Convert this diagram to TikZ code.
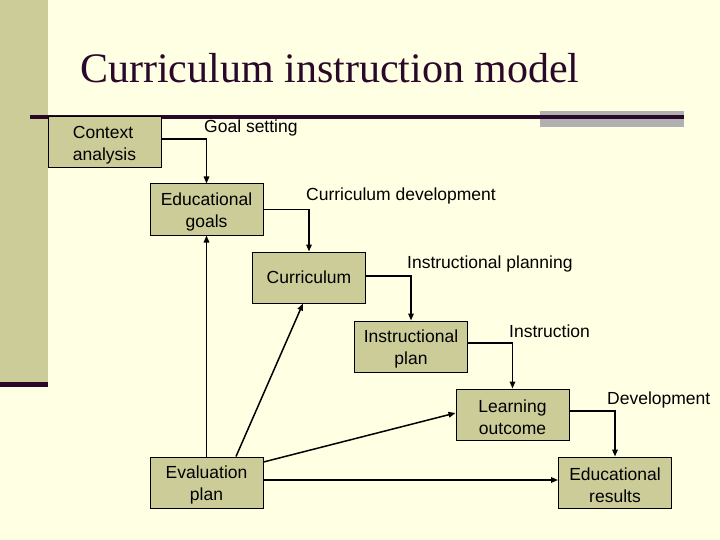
\documentclass[tikz,border=0pt]{standalone}
\usepackage{fontspec}
\setmainfont{Liberation Sans}
\newfontfamily\titlefont{Liberation Serif}
\usetikzlibrary{arrows.meta}
\definecolor{bgc}{RGB}{255,255,227}
\definecolor{khaki}{RGB}{204,204,153}
\definecolor{dpurple}{RGB}{42,8,42}
\definecolor{grayb}{RGB}{176,176,176}
\newcommand{\tallstrut}{\rule{0pt}{18pt}}
\tikzset{
  box/.style={draw=black, line width=1pt, fill=khaki, minimum width=113pt, minimum height=51pt,
    inner sep=0pt, align=center, font=\fontsize{17.5}{22}\selectfont},
  lab/.style={anchor=west, inner sep=0pt, font=\fontsize{17.5}{22}\selectfont},
  arr/.style={draw=black, line width=1.5pt, -{Triangle[length=7pt,width=5.5pt]}},
}
\begin{document}
\begin{tikzpicture}[x=1pt,y=-1pt]
\useasboundingbox (0,0) rectangle (720,540);
\fill[bgc] (0,0) rectangle (720,540);
% left strip
\fill[khaki] (0,0) rectangle (48,382);
\fill[dpurple] (0,382) rectangle (48,387);
% top rule
\fill[grayb] (540,111) rectangle (684,127);
\fill[dpurple] (30,115.5) rectangle (684,119);
% title
\node[anchor=base west, inner sep=0pt, text=dpurple, font=\titlefont\fontsize{42}{48}\selectfont] (title) at (80,83) {Curriculum instruction model};
% boxes
\node[box, align=left] (ctx) at (104.5,142) {\tallstrut Context\\analysis};
\node[box] (goals) at (206.5,209.5) {\tallstrut Educational\\goals};
\node[box] (curr) at (309,277.5) {Curriculum};
\node[box] (iplan) at (411,346.5) {\tallstrut Instructional\\plan};
\node[box] (lo) at (512.5,414.5) {\tallstrut Learning\\outcome};
\node[box] (res) at (615,482.5) {\tallstrut Educational\\results};
\node[box] (eval) at (206.5,482.5) {\tallstrut Evaluation\\plan};
% labels
\node[lab] (l1) at (204,127.5) {Goal setting};
\node[lab] (l2) at (306,195.5) {Curriculum development};
\node[lab] (l3) at (407,263.5) {Instructional planning};
\node[lab] (l4) at (509,331.5) {Instruction};
\node[lab] (l5) at (607,399.5) {Development};
% connectors
\draw[arr] ([yshift=3pt]ctx.east) -| (goals.north);
\draw[arr] (goals.east) -| (curr.north);
\draw[arr] ([yshift=1.5pt]curr.east) -| (iplan.north);
\draw[arr] ([yshift=3.5pt]iplan.east) -| (lo.north);
\draw[arr] ([yshift=3.5pt]lo.east) -| (res.north);
\draw[arr] (eval.north) -- (goals.south);
\draw[arr] ([xshift=29.5pt]eval.north) -- ([xshift=-6pt]curr.south);
\draw[arr] ([yshift=20.5pt]eval.east) -- ([yshift=1.5pt]lo.west);
\draw[arr] ([yshift=2.5pt]eval.east) -- ([yshift=2.5pt]res.west);
\end{tikzpicture}
\end{document}
